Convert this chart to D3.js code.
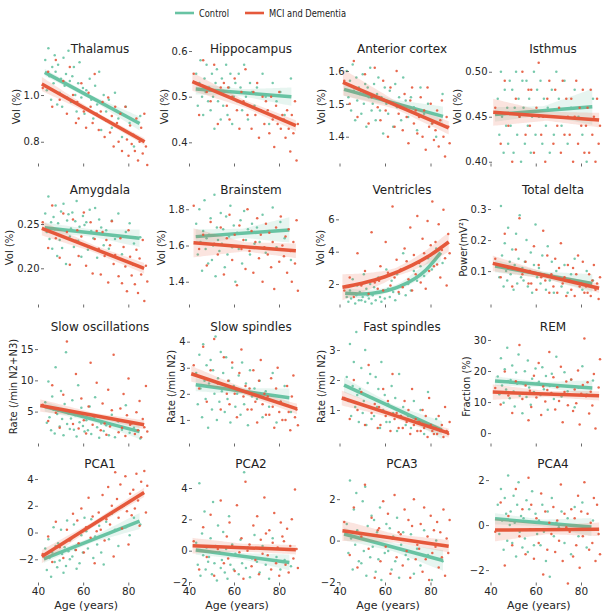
<!DOCTYPE html>
<html><head><meta charset="utf-8">
<script src="https://cdn.jsdelivr.net/npm/d3@7"></script>
<style>body{margin:0;background:#fff}svg{display:block}text{font-family:"DejaVu Sans",sans-serif}</style>
</head><body><svg id="c" width="616" height="616"></svg>
<script>
const groups = ["Control", "MCI and Dementia"];
const colors = ["#68c3a3", "#e5583b"];
const xTicks = [40, 60, 80];
const xLabel = "Age (years)";

const ctrlAges = [43.2,43.9,44.6,45.1,45.8,46.3,46.9,47.4,47.8,48.5,48.9,49.6,50.2,50.7,51.3,51.8,52.4,52.9,53.5,54.1,54.6,55.2,55.9,56.5,57.1,57.8,58.4,59.2,59.9,60.6,61.4,62.1,62.9,63.6,64.5,65.3,66.2,67.1,68.0,69.1,70.2,71.4,72.7,74.1,75.6,77.2,78.9,80.6,82.5,85.3];
const mciAges = [42.1,44.5,46.3,47.9,49.6,51.2,52.8,54.1,55.5,56.8,57.4,58.0,59.2,60.3,61.3,62.4,63.3,64.2,65.1,66.0,66.9,67.8,68.6,69.5,70.3,71.1,71.9,72.7,73.5,74.2,75.0,75.7,76.5,77.2,77.9,78.7,79.4,80.1,80.8,81.5,82.2,82.9,83.6,84.3,85.0,85.7,86.4,87.1,87.8,88.4];

const titles = ["Thalamus","Hippocampus","Anterior cortex","Isthmus","Amygdala","Brainstem","Ventricles","Total delta","Slow oscillations","Slow spindles","Fast spindles","REM","PCA1","PCA2","PCA3","PCA4"];
const yLabels = ["Vol (%)","Vol (%)","Vol (%)","Vol (%)","Vol (%)","Vol (%)","Vol (%)","Power(mV²)","Rate (/min N2+N3)","Rate (/min N2)","Rate (/min N2)","Fraction (%)","","","",""];
const yTicks = [[0.8,1.0],[0.4,0.5,0.6],[1.4,1.5,1.6],[0.40,0.45,0.50],[0.20,0.25],[1.4,1.6,1.8],[2,4,6],[0.1,0.2,0.3],[5,10,15],[1,2,3,4],[1,2,3],[0,10,20,30],[-2,0,2,4],[-2,0,2,4],[-2,0,2],[-2,0,2]];
const yFormats = [".1f",".1f",".1f",".2f",".2f",".1f","d",".1f","d","d","d","d","d","d","d","d"];
const yDomains = [[0.709,1.21],[0.3547,0.611],[1.32,1.676],[0.3986,0.5286],[0.1597,0.2918],[1.277,1.923],[0.763,8.0],[-0.006,0.371],[-0.03,18.7],[0.115,4.6],[-0.1,3.8],[-3.2,34.5],[-3.70,5.05],[-2.0,5.47],[-2.0,3.65],[-2.53,2.67]];

const ctrlVals = [
[1.15,1.02,1.20,1.08,0.98,1.12,1.05,1.17,1.10,0.96, 1.13,1.01,1.07,0.95,1.16,1.04,1.09,0.99,1.19,1.06, 0.97,1.08,1.12,1.00,0.93,1.05,1.14,0.99,1.03,0.92, 1.02,0.94,1.07,0.98,0.90,1.04,0.96,1.10,0.85,1.00, 0.93,0.98,0.86,1.01,0.90,0.82,0.95,0.88,0.78,0.91],
[0.55,0.48,0.53,0.58,0.50,0.46,0.54,0.51,0.57,0.49, 0.52,0.47,0.55,0.50,0.43,0.53,0.56,0.49,0.51,0.45, 0.54,0.48,0.51,0.57,0.46,0.52,0.55,0.44,0.50,0.53, 0.49,0.55,0.52,0.47,0.57,0.50,0.45,0.53,0.51,0.48, 0.52,0.47,0.55,0.50,0.44,0.53,0.49,0.51,0.46,0.54],
[1.60,1.52,1.57,1.48,1.62,1.54,1.45,1.58,1.51,1.55, 1.53,1.47,1.59,1.50,1.56,1.43,1.55,1.52,1.61,1.48, 1.50,1.56,1.45,1.53,1.58,1.48,1.52,1.41,1.55,1.50, 1.47,1.54,1.50,1.43,1.56,1.49,1.52,1.45,1.58,1.51, 1.46,1.52,1.49,1.42,1.55,1.47,1.50,1.44,1.40,1.53],
[0.47,0.43,0.50,0.45,0.41,0.48,0.44,0.46,0.42,0.49, 0.44,0.48,0.41,0.46,0.50,0.43,0.47,0.45,0.40,0.49, 0.46,0.42,0.49,0.44,0.47,0.41,0.45,0.50,0.43,0.48, 0.45,0.49,0.42,0.47,0.44,0.46,0.41,0.48,0.43,0.50, 0.47,0.44,0.49,0.42,0.46,0.48,0.45,0.43,0.40,0.47],
[0.262,0.241,0.281,0.233,0.252,0.222,0.258,0.244,0.271,0.214, 0.251,0.232,0.264,0.223,0.273,0.243,0.205,0.254,0.261,0.236, 0.245,0.263,0.224,0.253,0.276,0.231,0.247,0.213,0.259,0.249, 0.252,0.221,0.266,0.242,0.234,0.268,0.212,0.255,0.246,0.226, 0.243,0.222,0.254,0.233,0.262,0.216,0.241,0.251,0.228,0.235],
[1.72,1.55,1.80,1.62,1.46,1.68,1.85,1.58,1.64,1.50, 1.66,1.75,1.52,1.60,1.88,1.43,1.70,1.63,1.57,1.78, 1.61,1.69,1.48,1.76,1.55,1.65,1.82,1.59,1.71,1.40, 1.67,1.58,1.74,1.50,1.79,1.63,1.69,1.55,1.72,1.61, 1.70,1.62,1.77,1.56,1.68,1.81,1.59,1.73,1.64,1.52],
[1.2,0.9,1.6,1.1,2.3,1.4,0.8,1.3,1.9,1.0, 1.5,1.0,1.2,2.6,0.9,1.7,1.3,1.1,2.0,0.8, 1.3,1.8,1.0,1.5,2.4,1.2,0.9,1.6,1.1,2.9, 1.7,1.2,2.2,1.5,1.0,2.6,1.4,1.9,3.9,1.3, 2.0,1.6,2.8,2.2,3.1,2.5,3.6,2.9,4.2,3.3],
[0.12,0.08,0.31,0.15,0.05,0.19,0.10,0.07,0.24,0.13, 0.09,0.17,0.04,0.12,0.22,0.06,0.14,0.28,0.08,0.11, 0.07,0.13,0.20,0.05,0.10,0.16,0.03,0.12,0.25,0.08, 0.11,0.06,0.15,0.09,0.04,0.18,0.07,0.13,0.03,0.10, 0.08,0.05,0.12,0.03,0.09,0.14,0.06,0.04,0.10,0.07],
[6.5,3.2,9.8,4.1,2.0,7.4,5.3,1.5,12.1,4.6, 5.1,2.6,8.3,3.8,1.2,6.2,14.5,3.0,4.7,2.2, 3.9,6.8,2.1,4.4,1.0,9.2,3.3,5.6,2.7,1.8, 3.6,2.0,5.8,1.4,4.2,7.3,2.5,0.8,3.1,1.9, 2.8,1.2,4.5,0.9,3.4,2.1,6.0,1.6,2.4,0.7],
[2.8,1.6,3.5,2.2,1.1,3.9,2.5,1.8,3.1,0.7, 2.4,3.3,1.4,2.9,2.0,4.2,1.0,2.6,1.7,3.6, 2.1,2.8,1.3,3.4,1.8,2.5,0.9,3.0,2.3,1.5, 2.0,2.7,1.2,3.2,1.6,2.4,0.8,2.9,1.9,2.2, 1.8,2.5,1.1,2.1,1.5,2.8,0.9,1.7,2.3,1.3],
[2.1,1.3,3.2,0.8,1.8,2.6,1.1,3.6,1.5,0.6, 1.7,2.4,0.9,1.3,3.0,0.5,1.9,1.1,2.2,0.7, 1.4,0.8,2.1,1.1,1.7,0.4,2.6,1.0,1.5,0.6, 1.2,0.6,1.8,0.9,1.4,0.3,2.2,0.8,1.1,0.5, 0.8,0.4,1.3,0.6,1.0,0.2,1.6,0.5,0.7,0.3],
[18.2,12.5,24.1,15.3,9.8,20.6,14.0,27.5,16.8,11.2, 17.1,21.8,13.4,8.6,19.5,15.9,25.3,12.0,16.2,6.4, 15.8,19.9,11.6,23.4,14.7,9.1,17.5,13.2,20.8,16.0, 16.5,12.3,21.2,14.1,18.4,7.5,15.2,19.1,11.0,24.6, 15.1,11.8,19.6,13.5,17.2,8.3,14.6,21.5,12.4,16.9],
[-1.2,-2.8,-0.5,-1.9,-3.3,-1.5,0.4,-2.2,-1.0,-2.6, -0.8,-2.1,0.2,-1.6,-3.0,-1.1,-2.5,0.9,-1.4,-2.0, -0.5,-1.8,0.6,-1.3,-2.7,-0.9,-2.3,-0.2,-1.5,1.1, 0.1,-1.2,-0.6,1.0,-1.9,-0.3,-0.9,0.5,-1.5,-2.4, 0.8,-0.5,1.4,0.2,-1.0,1.9,0.4,-0.2,1.1,0.6],
[0.5,-0.9,4.3,-1.6,1.1,-0.3,2.5,-1.2,0.2,-0.7, -0.4,0.8,-1.5,3.1,-0.8,0.3,-1.9,1.6,-0.1,-1.1, -0.6,1.2,-1.4,0.1,-1.8,2.2,-0.9,0.4,-1.2,-0.2, -0.3,-1.5,0.7,-0.8,5.0,-1.1,0.2,-1.7,-0.5,1.0, -0.7,-1.4,0.3,-0.9,-1.8,0.8,-0.4,-1.2,-0.6,-1.0],
[0.8,-0.6,2.9,0.1,-1.4,1.5,-0.2,2.3,0.5,-1.0, 0.3,-1.1,1.9,-0.5,2.6,-1.7,0.7,0.0,-0.8,1.2, -0.3,1.0,-1.5,0.4,-0.9,1.6,-1.9,0.2,-0.6,0.8, -0.5,0.6,-1.4,0.2,-1.0,1.1,-1.8,-0.2,0.4,-0.7, -0.9,0.3,-1.6,-0.4,-1.2,0.5,-0.7,-1.9,0.0,-1.0],
[0.9,-0.4,1.6,0.2,-1.1,1.2,0.5,-0.7,2.2,0.0, 0.6,-0.8,1.3,0.1,-1.4,0.9,1.9,-0.3,0.4,-1.0, 0.3,-0.6,1.1,-1.2,0.7,-0.2,1.5,-0.9,0.5,-0.4, 0.2,-0.9,0.9,-0.3,-1.6,0.6,-2.3,1.2,-0.5,0.1, -0.1,0.6,-0.8,0.3,-1.3,0.8,-0.5,1.0,-1.0,0.2]
];

const mciVals = [
[1.03,1.10,0.95,1.15,0.98,1.06,0.92,1.12,1.00,0.88, 0.97,0.90,1.05,0.93,0.86,1.01,0.95,0.88,1.09,0.92, 0.85,0.93,0.97,0.82,0.89,0.99,0.84,0.91,0.78,0.95, 0.88,0.80,0.92,0.76,0.85,0.95,0.81,0.74,0.87,0.79, 0.83,0.76,0.90,0.72,0.80,0.86,0.75,0.92,0.78,0.70],
[0.55,0.46,0.58,0.51,0.49,0.57,0.44,0.52,0.53,0.48, 0.52,0.45,0.50,0.54,0.47,0.43,0.51,0.49,0.56,0.46, 0.48,0.43,0.51,0.46,0.53,0.41,0.47,0.50,0.44,0.49, 0.47,0.42,0.50,0.45,0.39,0.48,0.44,0.51,0.43,0.46, 0.45,0.41,0.47,0.43,0.38,0.46,0.42,0.49,0.36,0.44],
[1.57,1.50,1.63,1.46,1.54,1.59,1.44,1.52,1.61,1.49, 1.52,1.45,1.57,1.48,1.40,1.55,1.50,1.43,1.60,1.47, 1.49,1.42,1.53,1.46,1.38,1.51,1.55,1.44,1.48,1.41, 1.46,1.52,1.40,1.48,1.36,1.55,1.43,1.50,1.44,1.39, 1.42,1.48,1.37,1.45,1.51,1.40,1.34,1.46,1.43,1.38],
[0.46,0.42,0.49,0.44,0.40,0.47,0.45,0.50,0.43,0.48, 0.44,0.48,0.41,0.46,0.51,0.43,0.45,0.40,0.47,0.49, 0.45,0.42,0.48,0.44,0.46,0.41,0.49,0.43,0.47,0.45, 0.43,0.47,0.40,0.45,0.49,0.42,0.46,0.44,0.48,0.41, 0.44,0.46,0.41,0.48,0.43,0.45,0.40,0.47,0.42,0.44],
[0.252,0.223,0.271,0.234,0.212,0.262,0.241,0.204,0.255,0.231, 0.243,0.214,0.236,0.263,0.203,0.225,0.252,0.194,0.233,0.242, 0.222,0.193,0.241,0.214,0.232,0.184,0.226,0.253,0.205,0.215, 0.212,0.191,0.234,0.183,0.224,0.202,0.174,0.243,0.213,0.192, 0.204,0.182,0.221,0.172,0.211,0.193,0.232,0.163,0.203,0.185],
[1.82,1.58,1.66,1.49,1.73,1.61,1.55,1.70,1.44,1.64, 1.60,1.77,1.52,1.66,1.38,1.71,1.58,1.63,1.47,1.80, 1.57,1.68,1.45,1.62,1.75,1.53,1.66,1.40,1.59,1.72, 1.55,1.67,1.48,1.62,1.36,1.70,1.58,1.51,1.76,1.60, 1.54,1.65,1.45,1.69,1.57,1.40,1.62,1.50,1.74,1.35],
[1.6,2.4,1.2,3.9,1.9,2.8,1.4,5.2,2.1,1.7, 2.2,3.1,1.6,4.6,2.7,1.9,6.8,2.4,3.5,1.5, 2.9,1.8,4.2,3.4,2.3,5.5,1.6,3.8,2.6,6.2, 3.3,2.1,4.8,3.9,1.7,5.9,2.8,4.4,7.1,3.1, 4.6,3.2,5.7,2.4,4.1,6.6,3.6,1.9,5.1,3.9],
[0.14,0.08,0.22,0.11,0.05,0.17,0.27,0.09,0.13,0.06, 0.10,0.06,0.18,0.04,0.12,0.08,0.23,0.07,0.15,0.03, 0.09,0.05,0.14,0.03,0.11,0.19,0.06,0.08,0.02,0.12, 0.07,0.04,0.11,0.02,0.09,0.15,0.05,0.06,0.13,0.03, 0.05,0.03,0.09,0.02,0.07,0.12,0.04,0.06,0.01,0.08],
[6.1,3.5,9.2,4.8,2.4,7.7,16.2,5.0,3.0,11.0, 4.9,2.3,7.1,3.6,1.5,5.8,12.8,2.9,4.2,9.6, 4.2,2.0,6.3,3.1,1.3,8.5,2.6,5.2,14.1,3.7, 3.6,1.7,5.5,2.4,7.8,1.1,4.4,10.3,2.9,3.1, 3.2,1.4,4.9,2.0,6.7,0.9,3.8,2.5,9.1,1.8],
[3.1,2.2,3.8,1.7,2.9,4.1,2.4,1.4,3.4,2.0, 2.5,1.6,3.2,2.0,1.1,2.8,3.7,1.9,2.3,1.4, 2.2,1.4,2.9,1.7,0.9,2.5,3.3,1.6,2.0,1.2, 1.9,1.2,2.6,1.5,0.7,2.2,3.0,1.3,1.7,1.0, 1.6,1.0,2.3,1.3,0.6,1.9,2.7,1.1,1.4,0.8],
[1.4,0.7,2.0,1.0,1.6,0.5,2.5,0.9,1.2,0.4, 1.1,0.5,1.7,0.8,1.3,0.3,2.2,0.7,0.9,0.4, 0.8,0.4,1.3,0.6,1.0,0.2,1.7,0.5,0.7,0.3, 0.6,0.3,1.0,0.4,0.8,0.1,1.4,0.5,0.3,0.2, 0.4,0.2,0.8,0.3,0.5,0.1,1.1,0.3,0.2,0.6],
[14.5,9.2,19.8,12.1,6.5,16.7,28.4,11.0,15.3,4.1, 13.6,8.4,18.5,11.5,22.6,5.8,15.0,10.2,13.9,26.1, 12.9,18.0,7.6,14.8,10.3,21.4,3.5,13.2,16.6,9.0, 12.4,17.3,7.1,14.0,9.6,20.2,2.8,12.7,15.5,30.5, 11.9,16.4,6.3,13.3,8.9,19.0,1.5,12.2,14.7,23.8],
[-1.6,-0.3,-2.2,0.8,-1.1,-1.9,0.2,-0.6,1.4,-1.3, 0.9,-0.8,1.8,-1.5,0.4,2.6,-0.4,1.2,-2.3,0.1, 1.5,0.2,2.8,-0.6,1.0,3.4,0.6,2.0,-1.8,4.5, 2.5,1.1,3.6,0.3,2.0,4.2,1.6,-0.9,2.9,1.3, 3.2,1.8,4.4,2.4,0.5,3.8,2.9,4.6,1.5,3.5],
[0.6,-1.2,1.5,-0.4,2.3,-1.6,0.1,3.2,-0.8,0.9, -0.5,1.8,0.3,-1.3,2.9,-0.1,0.8,-1.8,4.4,0.0, 0.4,-1.0,1.6,-0.6,2.2,-1.5,0.7,-0.2,3.4,1.1, -0.3,1.3,-1.2,0.5,2.4,-0.8,0.2,-1.6,1.8,0.9, 0.6,-0.9,1.4,-1.4,0.3,2.0,-0.5,3.9,0.1,-1.1],
[0.9,-0.7,1.6,-1.3,0.2,2.7,-0.4,1.1,-1.8,0.5, 0.6,-1.0,1.9,-0.3,1.3,-1.6,0.1,2.2,-0.8,0.4, 0.3,-1.2,1.5,-0.5,1.0,-1.8,0.7,2.0,-0.9,-0.2, -0.4,0.8,-1.5,1.6,-0.9,0.2,-1.9,1.2,-0.6,0.5, -0.3,0.9,-1.3,0.4,-0.8,1.5,-1.7,0.1,-0.6,1.0],
[-0.3,1.0,-1.8,0.4,-0.9,1.6,-0.5,0.7,-1.3,2.1, -0.2,0.9,-1.5,0.3,-0.8,1.4,-2.2,0.6,-1.1,0.1, -0.4,0.8,-1.2,0.2,-0.7,1.8,-1.6,0.5,-0.1,-2.6, -0.3,0.7,-1.4,0.3,-0.9,1.3,-1.9,0.6,-0.5,1.9, -0.2,0.5,-1.1,0.1,-0.8,1.2,-1.6,0.9,-0.4,-1.3]
];

// fitted regression lines [age, value]
const ctrlLines = [
[[43,1.097],[85,0.878]],[[43,0.517],[85.5,0.50]],[[42,1.544],[85.5,1.462]],[[42,0.4526],[85,0.461]],
[[43,0.2458],[85,0.2339]],[[43,1.649],[84.6,1.686]],[[42.5,1.43],[50,1.38],[58,1.5],[67,1.88],[78,2.87],[84.5,3.94]],[[42,0.116],[85,0.06]],
[[43,5.8],[85,1.8]],[[43,2.35],[84.6,1.85]],[[42,1.83],[85,0.33]],[[42,16.8],[85,14.5]],
[[42.6,-1.97],[85,0.86]],[[43,0.04],[84.6,-0.75]],[[42,0.32],[85.5,-0.96]],[[42,0.28],[84.6,-0.09]]
];
const mciLines = [
[[41.7,1.047],[87.2,0.80]],[[41.5,0.533],[87.5,0.4365]],[[41.5,1.5656],[88,1.427]],[[41.2,0.4549],[88,0.4463]],
[[41.7,0.2451],[87,0.20]],[[42,1.615],[87.5,1.571]],[[41.3,1.8],[50,2.05],[60,2.45],[72,3.17],[80,3.8],[88,4.6]],[[41,0.125],[88,0.045]],
[[41,5.97],[87,2.9]],[[41,2.77],[88,1.42]],[[41,1.4],[88,0.23]],[[41,13.2],[88,12.0]],
[[41.7,-1.8],[87,3.0]],[[41.6,0.32],[87.5,0.06]],[[41.3,0.48],[88,-0.27]],[[42,-0.22],[88,-0.19]]
];
// confidence band half-widths at [start, middle, end]
const ctrlBands = [[0.015,0.01,0.03],[0.012,0.008,0.02],[0.02,0.01,0.03],[0.008,0.005,0.02],[0.006,0.004,0.01],[0.04,0.025,0.07],[0.3,0.15,0.5],[0.02,0.01,0.03],[0.8,0.4,1.2],[0.25,0.12,0.35],[0.25,0.1,0.3],[1.5,0.8,2.5],[0.3,0.2,0.6],[0.3,0.2,0.5],[0.3,0.2,0.5],[0.25,0.15,0.4]];
const mciBands = [[0.03,0.01,0.015],[0.02,0.008,0.012],[0.04,0.012,0.02],[0.015,0.005,0.008],[0.008,0.004,0.006],[0.08,0.025,0.04],[0.8,0.25,0.6],[0.025,0.01,0.015],[1.0,0.4,0.7],[0.3,0.12,0.2],[0.25,0.1,0.15],[2.5,1.0,1.5],[0.5,0.2,0.35],[0.5,0.25,0.3],[0.5,0.2,0.3],[0.5,0.2,0.3]];

// ---- layout ----
const colX40 = [38, 189, 339.5, 490.5], colX80 = [128.3, 279, 430.5, 581];
const rowTop = [46, 187, 326, 465], rowBottom = [163, 304, 443, 582];
const yAxisX = [44,192,349,492, 44,189,339,491, 38,190,340,491, 38,192,340,489];
const titleX = [100, 251, 402, 553], titleY = [49, 189.3, 326.5, 463.3];

const svg = d3.select("#c");

// legend
const leg = svg.append("g");
[[175, 199, 30], [245, 269, 77]].forEach((p, i) => {
  leg.append("line").attr("x1", p[0]).attr("x2", p[0] + 19).attr("y1", 13).attr("y2", 13)
    .attr("stroke", colors[i]).attr("stroke-width", 2.6);
  leg.append("text").attr("x", p[1]).attr("y", 16.8).attr("font-size", 10.5).attr("fill", "#222")
    .attr("textLength", p[2]).attr("lengthAdjust", "spacingAndGlyphs").text(groups[i]);
});

titles.forEach((title, k) => {
  const r = Math.floor(k / 4), c = k % 4;
  const x = d3.scaleLinear().domain([40, 80]).range([colX40[c], colX80[c]]);
  const y = d3.scaleLinear().domain(yDomains[k]).range([rowBottom[r], rowTop[r]]);
  const g = svg.append("g");

  const sets = [
    {ages: ctrlAges, vals: ctrlVals[k], line: ctrlLines[k], band: ctrlBands[k], col: colors[0]},
    {ages: mciAges, vals: mciVals[k], line: mciLines[k], band: mciBands[k], col: colors[1]}
  ];
  sets.forEach(s => {
    // scatter
    g.append("g").selectAll("circle").data(s.ages.map((a, i) => [a, s.vals[i]])).join("circle")
      .attr("cx", d => x(d[0])).attr("cy", d => y(d[1])).attr("r", 1.25)
      .attr("fill", s.col).attr("fill-opacity", 0.9);
    // band
    const a0 = s.line[0][0], a1 = s.line[s.line.length - 1][0];
    const center = d3.scaleLinear().domain(s.line.map(d => d[0])).range(s.line.map(d => d[1]));
    const hw = d3.scaleLinear().domain([a0, (a0 + a1) / 2, a1]).range(s.band);
    const samples = d3.range(41).map(i => a0 + (a1 - a0) * i / 40);
    g.append("path").datum(samples)
      .attr("d", d3.area().curve(d3.curveBasis).x(a => x(a))
        .y0(a => y(center(a) - hw(a))).y1(a => y(center(a) + hw(a))))
      .attr("fill", s.col).attr("fill-opacity", 0.16);
    g.append("path").datum(s.line)
      .attr("d", d3.line().curve(d3.curveMonotoneX).x(d => x(d[0])).y(d => y(d[1])))
      .attr("fill", "none").attr("stroke", s.col).attr("stroke-width", 3.5).attr("stroke-linecap", "butt");
  });

  // y axis
  const ya = g.append("g").attr("transform", `translate(${yAxisX[k]},0)`)
    .call(d3.axisLeft(y).tickValues(yTicks[k]).tickFormat(d3.format(yFormats[k])).tickSize(3).tickPadding(1.5));
  ya.select(".domain").remove();
  ya.selectAll("line").attr("stroke", "#444").attr("stroke-width", 0.8);
  ya.selectAll("text").attr("font-size", 10).attr("fill", "#262626").attr("font-family", "DejaVu Sans");

  // x axis
  const xa = g.append("g").attr("transform", `translate(0,${rowBottom[r] + 0.5})`)
    .call(d3.axisBottom(x).tickValues(xTicks).tickSize(3).tickPadding(2)
      .tickFormat(r === 3 ? d3.format("d") : () => ""));
  xa.select(".domain").remove();
  xa.selectAll("line").attr("stroke", "#444").attr("stroke-width", 0.8);
  xa.selectAll("text").attr("font-size", 10.5).attr("fill", "#262626").attr("font-family", "DejaVu Sans");

  if (r === 3) {
    g.append("text").attr("x", (colX40[c] + colX80[c]) / 2 + 3).attr("y", 609)
      .attr("text-anchor", "middle").attr("font-size", 11).attr("fill", "#262626").text(xLabel);
  }

  // y label
  if (yLabels[k]) {
    let minX = Infinity;
    ya.selectAll("text").each(function () {
      const b = this.getBBox();
      minX = Math.min(minX, yAxisX[k] + b.x);
    });
    const lx = minX - 4;
    const ly = (rowTop[r] + rowBottom[r]) / 2 + 2;
    g.append("text").attr("transform", `translate(${lx},${ly}) rotate(-90)`)
      .attr("text-anchor", "middle").attr("font-size", 10).attr("fill", "#262626").text(yLabels[k]);
  }

  // title
  g.append("text").attr("x", titleX[c]).attr("y", titleY[r] + 4.3).attr("text-anchor", "middle")
    .attr("font-size", 12).attr("fill", "#222").text(title);
});
</script></body></html>
